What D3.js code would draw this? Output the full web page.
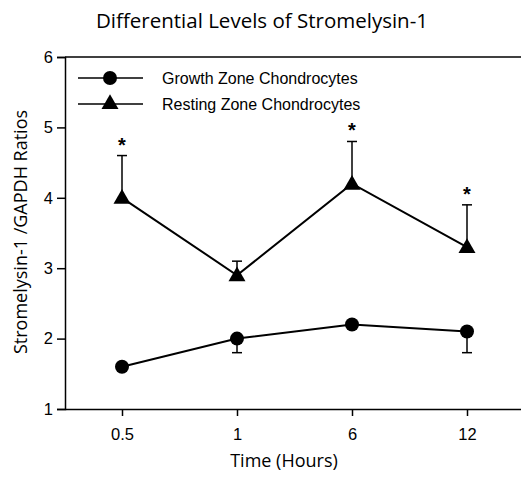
<!DOCTYPE html>
<html>
<head>
<meta charset="utf-8">
<script src="https://d3js.org/d3.v7.min.js"></script>
<style>
  body { margin: 0; background: #fff; }
  svg { display: block; }
</style>
</head>
<body>
<script>
// data
const times = ['0.5', '1', '6', '12'];
const growth = [1.6, 2.0, 2.2, 2.1];
const growthErrLow = [null, 1.8, null, 1.8];
const resting = [4.0, 2.9, 4.2, 3.3];
const restingErrHigh = [4.6, 3.1, 4.8, 3.9];
const significant = [true, false, true, true];
const yTicks = [1, 2, 3, 4, 5, 6];

const W = 521, H = 477;
const humanist = '"Open Sans", "Noto Sans", sans-serif';
const helv = '"Liberation Sans", Arial, sans-serif';

const svg = d3.select('body').append('svg')
  .attr('width', W).attr('height', H);

const x = d3.scalePoint().domain(times).range([122, 467]);
const y = d3.scaleLinear().domain([1, 6]).range([409, 57]);

// frame line on top, runs to the right edge
svg.append('line')
  .attr('x1', 65).attr('x2', W).attr('y1', y(6)).attr('y2', y(6))
  .attr('stroke', '#000').attr('stroke-width', 1.5);

// y axis
const yAxis = svg.append('g')
  .attr('transform', 'translate(65,0)')
  .call(d3.axisLeft(y).tickValues(yTicks).tickSize(8).tickFormat(d3.format('d')));
yAxis.select('.domain').attr('stroke-width', 1.5);
yAxis.selectAll('.tick line').attr('stroke-width', 1.5);
yAxis.selectAll('text')
  .style('font-family', helv).style('font-size', '16.5px').attr('fill', '#000')
  .attr('x', -12);

// x axis
const xAxis = svg.append('g')
  .attr('transform', `translate(0,${y(1)})`)
  .call(d3.axisBottom(x).tickSizeInner(7).tickSizeOuter(0));
xAxis.select('.domain').attr('d', `M65,0.5H${W}`).attr('stroke-width', 1.5);
xAxis.selectAll('.tick line').attr('stroke-width', 1.5);
xAxis.selectAll('text')
  .style('font-family', helv).style('font-size', '16.5px').attr('fill', '#000')
  .attr('y', 19);

// title and axis labels
svg.append('text')
  .attr('x', 262).attr('y', 28)
  .attr('text-anchor', 'middle')
  .style('font-family', humanist).style('font-size', '20.5px')
  .text('Differential Levels of Stromelysin-1');

svg.append('text')
  .attr('x', 284).attr('y', 467)
  .attr('text-anchor', 'middle')
  .style('font-family', humanist).style('font-size', '18px')
  .text('Time (Hours)');

svg.append('text')
  .attr('transform', 'translate(27,232) rotate(-90)')
  .attr('text-anchor', 'middle')
  .style('font-family', humanist).style('font-size', '18px')
  .text('Stromelysin-1 /GAPDH Ratios');

const line = d3.line().x((d, i) => x(times[i])).y(d => y(d));

// error bars
const cap = 5;
times.forEach((t, i) => {
  const cx = x(t);
  if (growthErrLow[i] != null) {
    svg.append('line').attr('x1', cx).attr('x2', cx)
      .attr('y1', y(growth[i])).attr('y2', y(growthErrLow[i]))
      .attr('stroke', '#000').attr('stroke-width', 1.5);
    svg.append('line').attr('x1', cx - cap).attr('x2', cx + cap)
      .attr('y1', y(growthErrLow[i])).attr('y2', y(growthErrLow[i]))
      .attr('stroke', '#000').attr('stroke-width', 1.5);
  }
  svg.append('line').attr('x1', cx).attr('x2', cx)
    .attr('y1', y(resting[i])).attr('y2', y(restingErrHigh[i]))
    .attr('stroke', '#000').attr('stroke-width', 1.5);
  svg.append('line').attr('x1', cx - cap).attr('x2', cx + cap)
    .attr('y1', y(restingErrHigh[i])).attr('y2', y(restingErrHigh[i]))
    .attr('stroke', '#000').attr('stroke-width', 1.5);
  if (significant[i]) {
    svg.append('text')
      .attr('x', cx).attr('y', y(restingErrHigh[i]) - 4)
      .attr('text-anchor', 'middle')
      .style('font-family', helv).style('font-size', '20px').style('font-weight', 'bold')
      .text('*');
  }
});

// lines
svg.append('path').datum(growth)
  .attr('d', line).attr('fill', 'none').attr('stroke', '#000').attr('stroke-width', 2);
svg.append('path').datum(resting)
  .attr('d', line).attr('fill', 'none').attr('stroke', '#000').attr('stroke-width', 2);

const tri = d3.symbol().type(d3.symbolTriangle).size(125);

svg.selectAll('.gpt').data(growth).join('circle')
  .attr('cx', (d, i) => x(times[i])).attr('cy', d => y(d)).attr('r', 7)
  .attr('fill', '#000');
svg.selectAll('.rpt').data(resting).join('path')
  .attr('d', tri)
  .attr('transform', (d, i) => `translate(${x(times[i])},${y(d) + 1})`)
  .attr('fill', '#000');

// legend
const legend = [
  { name: 'Growth Zone Chondrocytes', shape: 'circle', yy: 78 },
  { name: 'Resting Zone Chondrocytes', shape: 'triangle', yy: 104 }
];
legend.forEach(l => {
  svg.append('line').attr('x1', 78).attr('x2', 143).attr('y1', l.yy).attr('y2', l.yy)
    .attr('stroke', '#000').attr('stroke-width', 1.5);
  if (l.shape === 'circle') {
    svg.append('circle').attr('cx', 110).attr('cy', l.yy).attr('r', 7).attr('fill', '#000');
  } else {
    svg.append('path').attr('d', tri).attr('transform', `translate(110,${l.yy})`).attr('fill', '#000');
  }
  svg.append('text').attr('x', 162).attr('y', l.yy + 6)
    .style('font-family', helv).style('font-size', '16px')
    .text(l.name);
});
</script>
</body>
</html>
